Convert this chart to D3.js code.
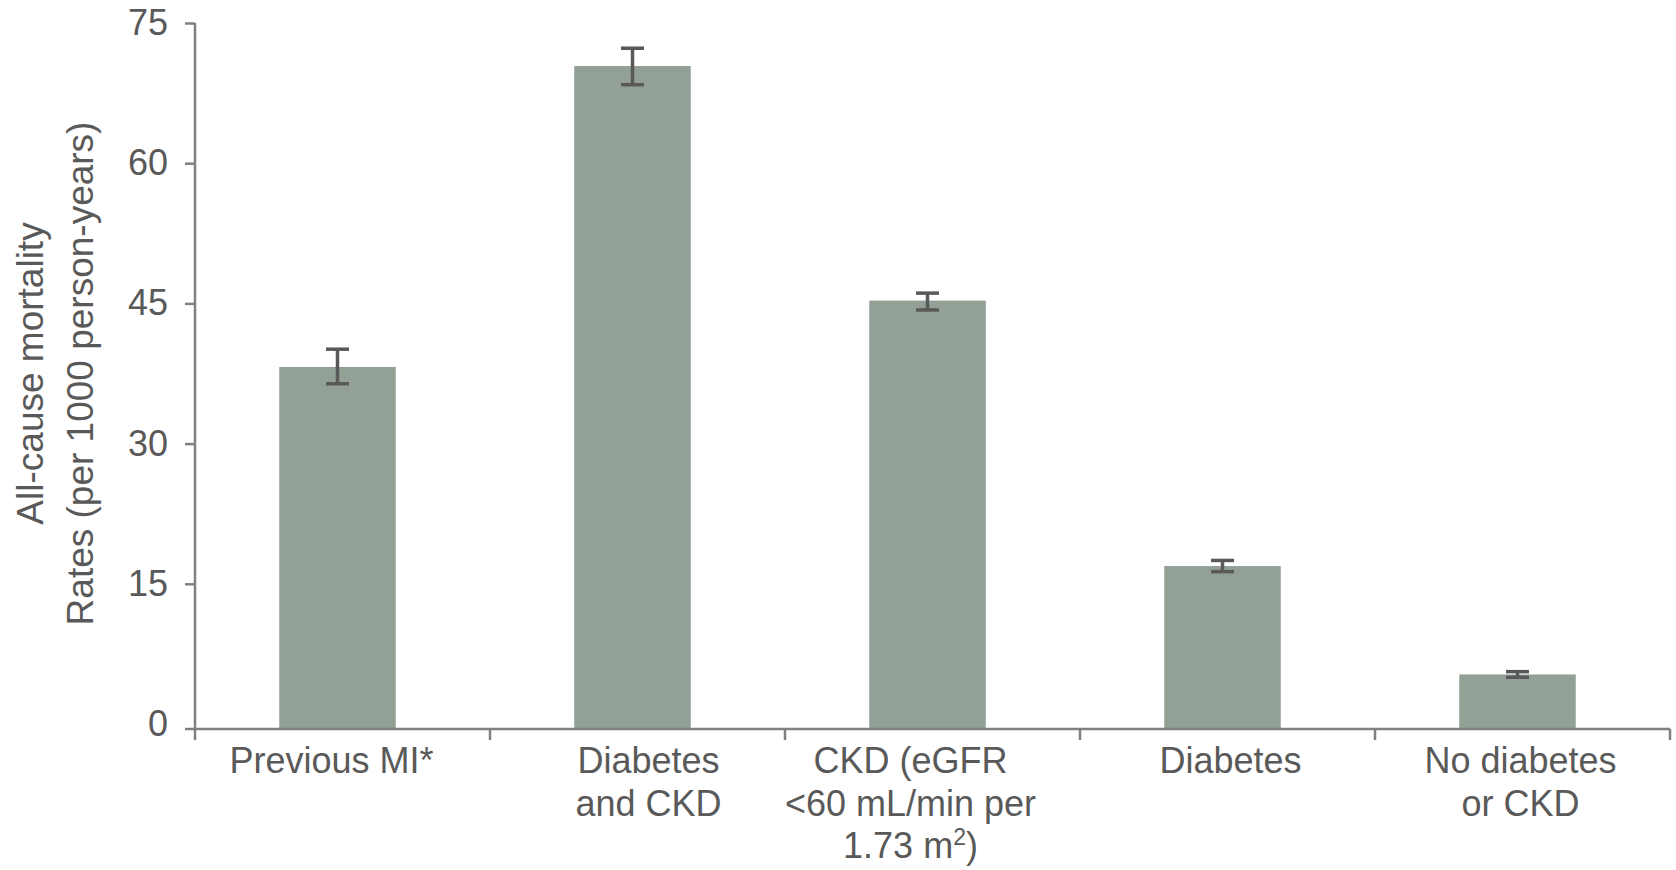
<!DOCTYPE html>
<html>
<head>
<meta charset="utf-8">
<script src="https://cdn.jsdelivr.net/npm/d3@7"></script>
<style>
  body { margin: 0; background: #ffffff; }
  text { font-family: "Liberation Sans", Arial, sans-serif; fill: #595959; }
</style>
</head>
<body>
<div id="chart"></div>
<script>
// chart values
let categories = ['Previous MI*', 'Diabetes and CKD', 'CKD (eGFR <60 mL/min per 1.73 m2)', 'Diabetes', 'No diabetes or CKD']
let categoryLines = [
  ['Previous MI*'],
  ['Diabetes', 'and CKD'],
  ['CKD (eGFR', '<60 mL/min per', '1.73 m|2|)'],
  ['Diabetes'],
  ['No diabetes', 'or CKD']
]
let rates = [38.2, 70.4, 45.3, 16.9, 5.3]
let lowerCI = [36.4, 68.4, 44.3, 16.3, 5.0]
let upperCI = [40.1, 72.3, 46.1, 17.5, 5.6]
let yTicks = [0, 15, 30, 45, 60, 75]

function mortalityChart() {
  let margin = { top: 23, left: 195, right: 6, bottom: 146 },
    width = 1676 - margin.left - margin.right,
    height = 870 - margin.top - margin.bottom,
    axisY = height + 5,   // the category axis sits a little under the zero tick
    barShift = -5,
    labelShift = [-11, 11, -22, 3, -2]

  function chart(selector) {
    let data = categories.map(function(c, i) {
      return { name: c, lines: categoryLines[i], rate: rates[i], lo: lowerCI[i], hi: upperCI[i], shift: labelShift[i] }
    })

    let svg = d3.select(selector)
      .append('svg')
      .attr('width', 1676)
      .attr('height', 870)
      .style('background-color', '#FFFFFF')

    let g = svg.append('g').attr('transform', 'translate(' + margin.left + ',' + margin.top + ')')

    let x = d3.scaleBand().domain(categories).range([0, width]).padding(0)
    let y = d3.scaleLinear().domain([0, 75]).range([height, 0])
    let barWidth = x.bandwidth() * 0.395

    // bars
    g.selectAll('.bar')
      .data(data)
      .enter().append('rect')
      .attr('class', 'bar')
      .attr('x', function(d) { return x(d.name) + x.bandwidth() / 2 - barWidth / 2 + barShift })
      .attr('width', barWidth)
      .attr('y', function(d) { return y(d.rate) })
      .attr('height', function(d) { return axisY - y(d.rate) })
      .style('fill', '#92a096')

    // error bars
    let err = g.selectAll('.err')
      .data(data)
      .enter().append('g')
      .attr('class', 'err')
      .attr('transform', function(d) { return 'translate(' + (x(d.name) + x.bandwidth() / 2 + barShift) + ',0)' })
      .style('stroke', '#595959')
      .style('stroke-width', 3.5)

    err.append('line')
      .attr('y1', function(d) { return y(d.lo) })
      .attr('y2', function(d) { return y(d.hi) })
    err.append('line')
      .attr('x1', -11.5).attr('x2', 11.5)
      .attr('y1', function(d) { return y(d.hi) })
      .attr('y2', function(d) { return y(d.hi) })
    err.append('line')
      .attr('x1', -11.5).attr('x2', 11.5)
      .attr('y1', function(d) { return y(d.lo) })
      .attr('y2', function(d) { return y(d.lo) })

    // y axis
    let yAxis = g.append('g')
      .attr('class', 'axis axis--y')
      .call(d3.axisLeft(y).tickValues(yTicks).tickSize(10).tickSizeOuter(0).tickPadding(17))
    yAxis.select('.domain').remove()
    yAxis.selectAll('.tick')
      .filter(function(d) { return d === 0 })
      .select('line').remove()
    yAxis.selectAll('line').style('stroke', '#808080').style('stroke-width', 2.5)
    yAxis.selectAll('text')
      .style('font-size', '36px')
      .style('font-family', '"Liberation Sans", Arial, sans-serif')
      .style('fill', '#595959')
    g.append('line')
      .attr('x1', 0).attr('x2', 0)
      .attr('y1', y(75)).attr('y2', axisY + 11)
      .style('stroke', '#808080').style('stroke-width', 2.5)

    // x axis with ticks on the category borders
    let xAxis = g.append('g')
      .attr('class', 'axis axis--x')
      .attr('transform', 'translate(0,' + axisY + ')')
    xAxis.append('line')
      .attr('x1', -10).attr('x2', width)
      .style('stroke', '#808080').style('stroke-width', 2.5)
    xAxis.selectAll('.border')
      .data(categories.slice(1).concat(['end']))
      .enter().append('line')
      .attr('class', 'border')
      .attr('x1', function(d, i) { return x.step() * (i + 1) })
      .attr('x2', function(d, i) { return x.step() * (i + 1) })
      .attr('y1', 0).attr('y2', 11)
      .style('stroke', '#808080').style('stroke-width', 2.5)

    let labels = xAxis.selectAll('.label')
      .data(data)
      .enter().append('text')
      .attr('class', 'label')
      .attr('text-anchor', 'middle')
      .style('font-size', '36px')
      .attr('transform', function(d) { return 'translate(' + (x(d.name) + x.bandwidth() / 2 + d.shift) + ',44)' })

    labels.each(function(d) {
      let t = d3.select(this)
      d.lines.forEach(function(line, i) {
        let parts = line.split('|')
        t.append('tspan').attr('x', 0).attr('y', i * 42.6).text(parts[0])
        if (parts.length > 1) {
          t.append('tspan').attr('dy', -13).style('font-size', '23px').text(parts[1])
          t.append('tspan').attr('dy', 13).text(parts[2])
        }
      })
    })

    // y axis title
    svg.append('text')
      .attr('transform', 'translate(43,' + (margin.top + height / 2) + ') rotate(-90)')
      .attr('text-anchor', 'middle')
      .style('font-size', '37px')
      .text('All-cause mortality')
    svg.append('text')
      .attr('transform', 'translate(93,' + (margin.top + height / 2) + ') rotate(-90)')
      .attr('text-anchor', 'middle')
      .style('font-size', '37px')
      .text('Rates (per 1000 person-years)')

    return chart
  }

  return chart
}

mortalityChart()('#chart')
</script>
</body>
</html>
